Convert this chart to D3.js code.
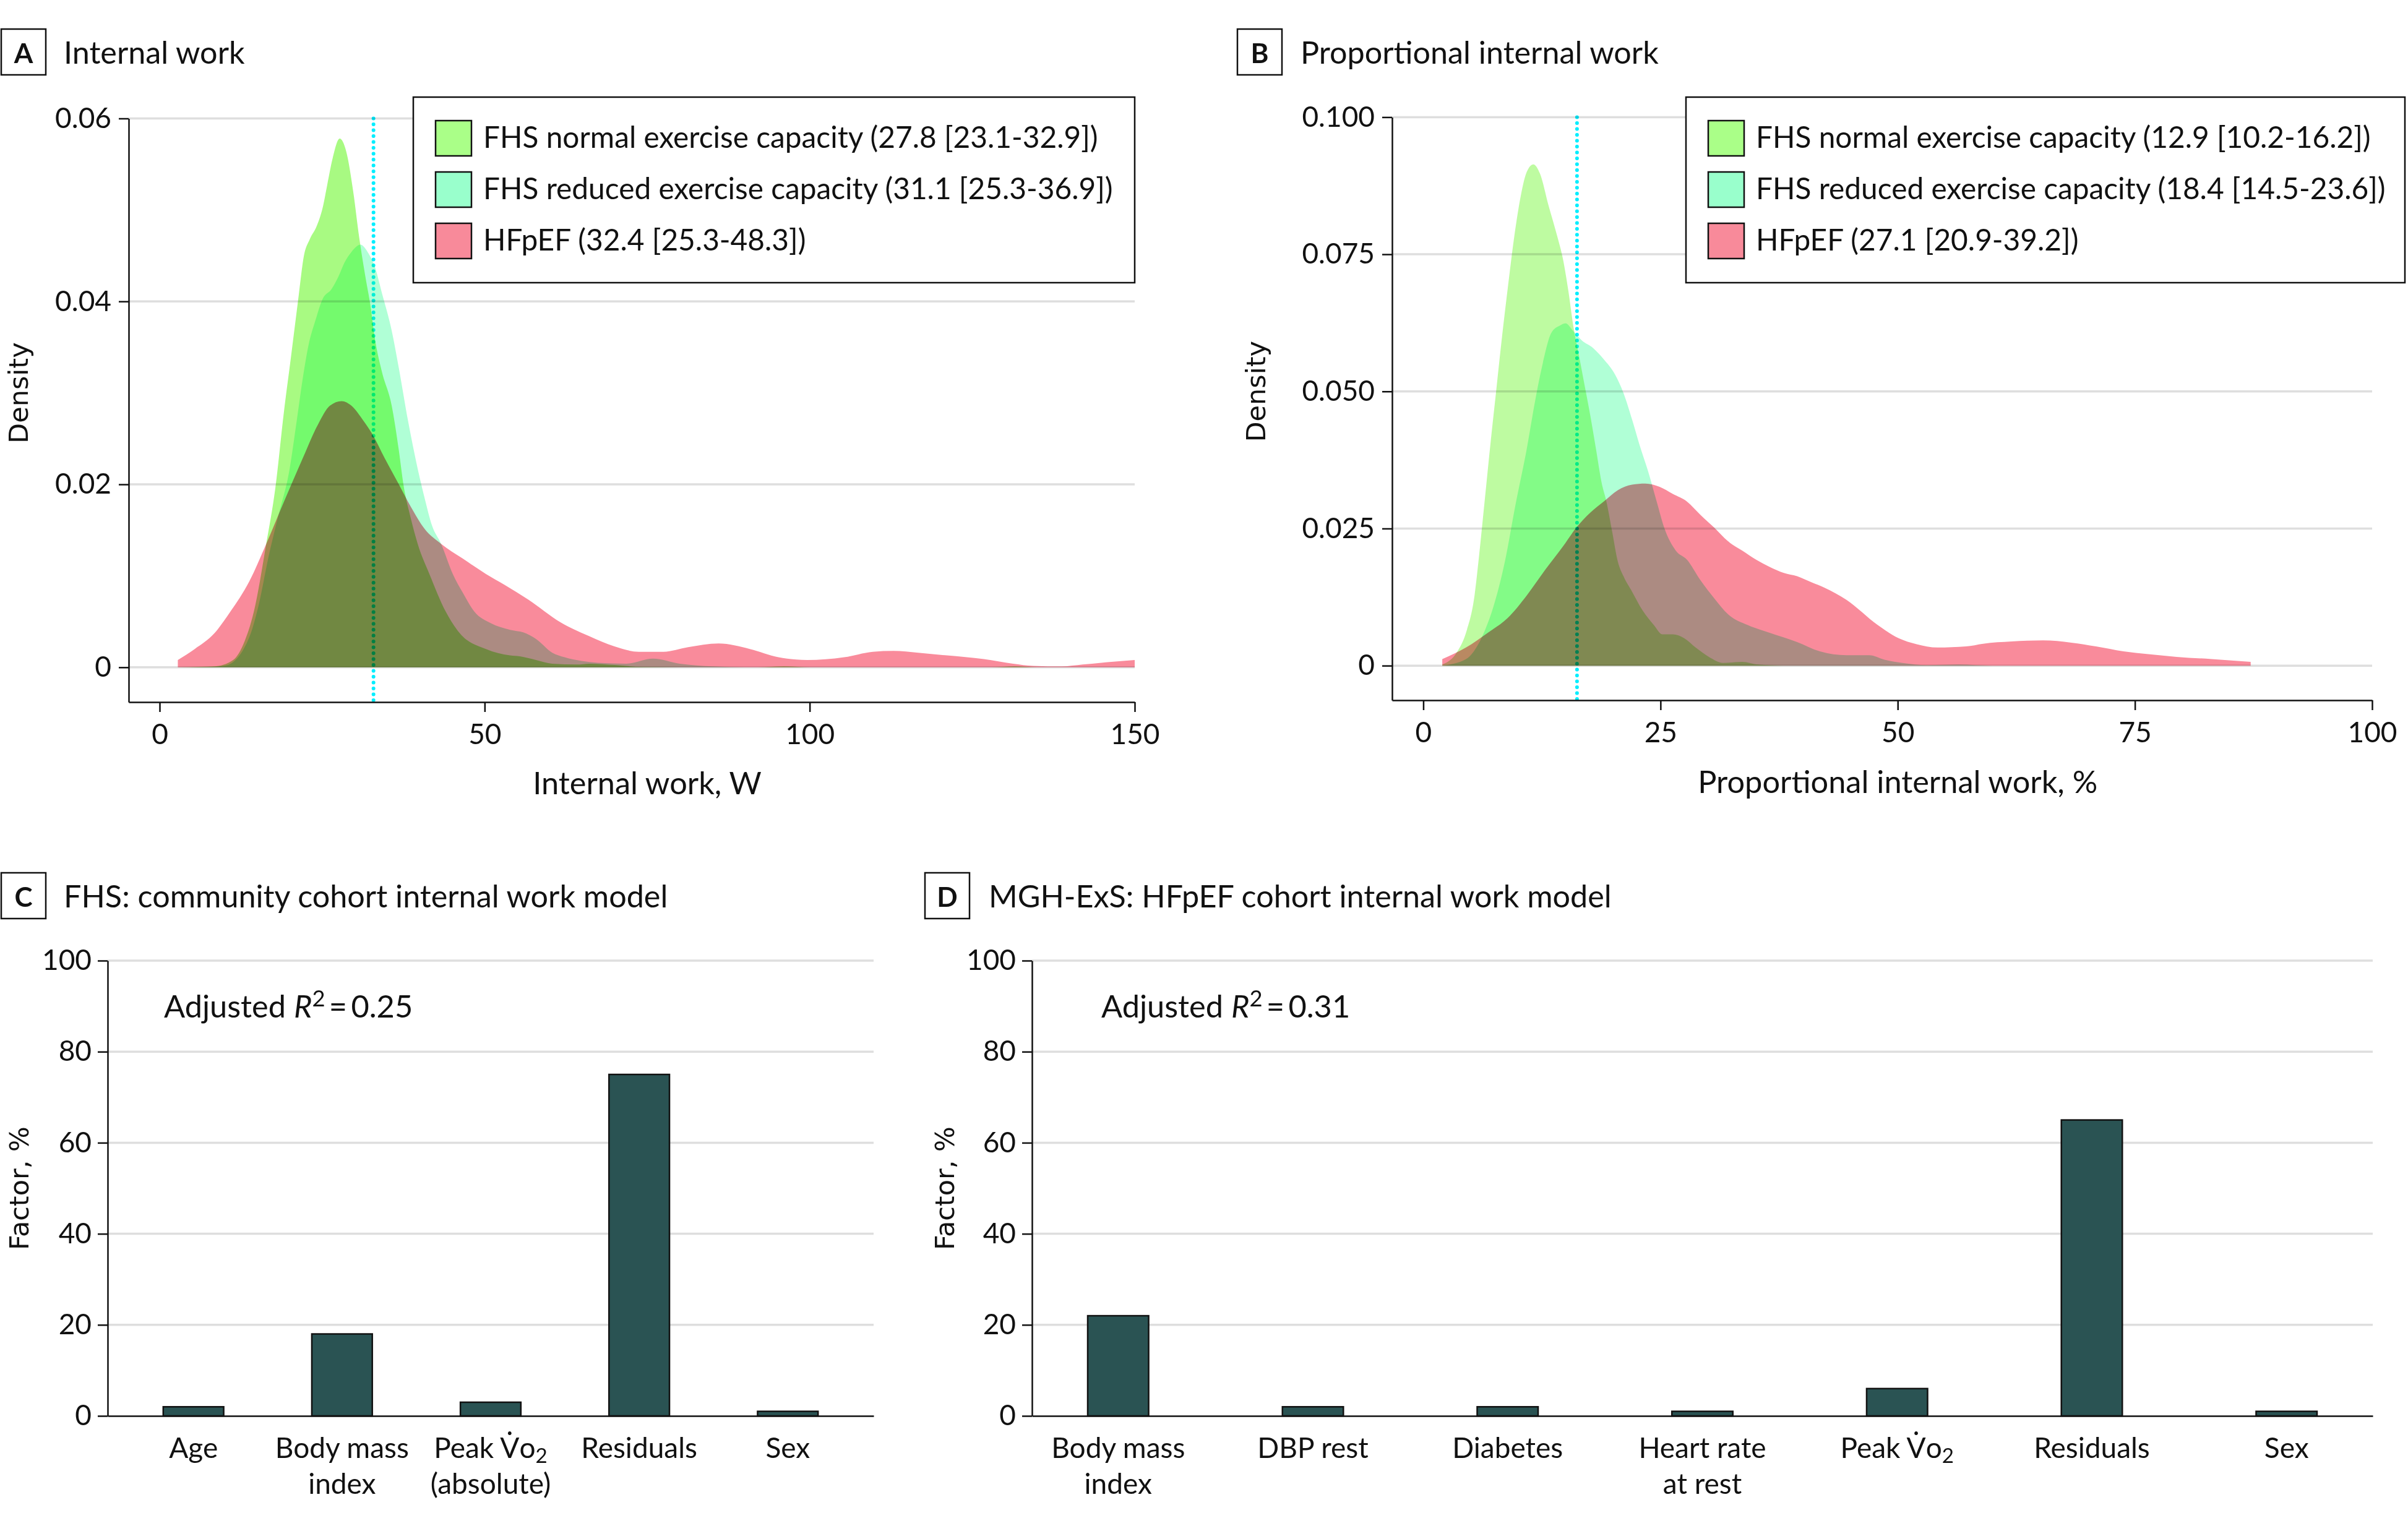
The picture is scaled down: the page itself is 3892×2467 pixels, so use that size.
<!DOCTYPE html>
<html><head><meta charset="utf-8">
<script src="https://cdn.jsdelivr.net/npm/d3@7"></script>
<style>
body{margin:0;background:#fff}
svg{display:block}
text{font-family:Lato,'Open Sans',sans-serif;fill:#111}
</style></head><body>
<svg id="c" width="3892" height="2467"></svg>
<script>
// ---------------- DATA ----------------
const seriesNames = ["FHS normal exercise capacity", "FHS reduced exercise capacity", "HFpEF"];
const legendA = ["FHS normal exercise capacity (27.8 [23.1-32.9])", "FHS reduced exercise capacity (31.1 [25.3-36.9])", "HFpEF (32.4 [25.3-48.3])"];
const legendB = ["FHS normal exercise capacity (12.9 [10.2-16.2])", "FHS reduced exercise capacity (18.4 [14.5-23.6])", "HFpEF (27.1 [20.9-39.2])"];
const refLineA = 32.9, refLineB = 16.2;

// Panel A: internal work (W) vs density
const normalA = [[2.8,0],[6,0.00005],[8.4,0.0001],[11.3,0.0008],[13.1,0.0029],[14.5,0.0061],[16.4,0.0135],[17.8,0.0196],[19.1,0.0278],[20.2,0.0339],[21.3,0.0401],[22.2,0.0450],[23.1,0.0468],[24.2,0.0483],[25.1,0.0503],[25.8,0.0528],[26.6,0.0556],[27.7,0.0578],[28.7,0.0564],[29.8,0.0519],[30.7,0.0470],[31.7,0.0425],[32.4,0.0397],[33.1,0.0360],[34.2,0.0323],[35.7,0.0286],[36.8,0.0237],[37.5,0.0200],[38.6,0.0164],[39.7,0.0135],[41.5,0.0102],[44.0,0.0061],[46.2,0.0037],[50.2,0.0020],[53.9,0.0013],[55.4,0.0012],[57.9,0.0008],[60.4,0.0004],[64.2,0.0003],[66.1,0.0004],[70,0.00025],[74.4,0.00003],[80,0],[92,0],[96,0.0001],[100,0],[128,0],[131.6,0.0001],[135,0],[150,0]];
const reducedA = [[2.8,0],[8,0.00005],[10.2,0.0002],[13.8,0.0033],[15.3,0.0070],[16.7,0.0119],[18.2,0.0164],[20.0,0.0217],[21.1,0.0270],[22.0,0.0315],[22.9,0.0352],[24.0,0.0380],[25.1,0.0403],[26.4,0.0413],[27.5,0.0427],[28.4,0.0442],[29.5,0.0454],[30.9,0.0462],[32.0,0.0454],[33.1,0.0438],[34.2,0.0409],[35.7,0.0368],[36.8,0.0327],[38.2,0.0270],[39.7,0.0217],[40.8,0.0184],[41.9,0.0155],[43.3,0.0135],[45.1,0.0102],[46.6,0.0082],[48.4,0.0061],[51.0,0.0048],[53.9,0.0041],[56.0,0.0038],[57.9,0.0031],[60.4,0.0016],[62.3,0.0011],[64.9,0.0007],[67.4,0.0005],[71.8,0.0004],[75.9,0.00095],[80.0,0.0004],[85.1,0.0001],[90,0],[150,0]];
const hfpefA = [[2.8,0.0008],[5.4,0.0020],[8.4,0.0037],[10.9,0.0061],[13.8,0.0094],[16.4,0.0135],[19.3,0.0184],[21.8,0.0225],[24.4,0.0266],[26.2,0.0286],[28.0,0.0291],[29.5,0.0286],[31.3,0.0270],[32.8,0.0254],[34.6,0.0229],[36.8,0.0200],[38.6,0.0176],[40.8,0.0151],[43.3,0.0135],[46.6,0.0119],[50.2,0.0102],[53.1,0.0090],[56.7,0.0074],[61.7,0.0049],[66.1,0.0034],[69.9,0.0023],[73.7,0.0017],[77.5,0.0017],[81.3,0.0022],[86.0,0.0026],[90.8,0.0020],[95.2,0.0011],[99.6,0.0008],[105.3,0.0011],[109.7,0.0017],[112.9,0.0018],[116.7,0.0016],[121.1,0.0013],[126.8,0.0009],[131.3,0.0004],[134.4,0.00016],[138.8,0.0001],[142.0,0.0003],[146.4,0.0006],[150,0.0008]];

// Panel B: proportional internal work (%) vs density
const normalB = [[2.0,0.0002],[3.6,0.0026],[4.5,0.0060],[5.4,0.0128],[5.9,0.0204],[6.5,0.0306],[7.1,0.0408],[7.7,0.0504],[8.3,0.0600],[8.9,0.0688],[9.6,0.0784],[10.3,0.0859],[10.9,0.0900],[11.6,0.0914],[12.3,0.0897],[13.2,0.0839],[14.1,0.0784],[14.7,0.0743],[15.3,0.0682],[15.8,0.0620],[16.4,0.0566],[17.0,0.0511],[17.6,0.0456],[18.2,0.0395],[18.8,0.0333],[19.3,0.0299],[19.9,0.0245],[20.5,0.0190],[21.1,0.0163],[22.0,0.0135],[23.1,0.0101],[24.3,0.0074],[25.2,0.0057],[26.3,0.0057],[27.5,0.0050],[28.7,0.0033],[30.1,0.0016],[31.6,0.0005],[33.6,0.0007],[35.3,0.0002],[38,0],[87,0]];
const reducedB = [[2.0,0],[4.5,0.0012],[6.2,0.0053],[7.4,0.0108],[8.6,0.0190],[9.7,0.0292],[10.9,0.0395],[11.8,0.0484],[12.6,0.0552],[13.5,0.0607],[14.4,0.0620],[15.0,0.0624],[15.8,0.0610],[16.7,0.0593],[17.9,0.0579],[19.0,0.0559],[20.2,0.0531],[21.1,0.0497],[22.0,0.0449],[22.8,0.0402],[23.7,0.0354],[24.6,0.0299],[25.4,0.0251],[26.6,0.0210],[27.8,0.0193],[29.2,0.0156],[30.7,0.0122],[32.1,0.0094],[34.2,0.0074],[36.5,0.0060],[39.4,0.0043],[41.8,0.0026],[44.6,0.0019],[47.0,0.0019],[48.6,0.0011],[50.5,0.0005],[53.1,0.0001],[56.4,0.0002],[60,0],[87,0]];
const hfpefB = [[2.0,0.0012],[4.5,0.0033],[6.8,0.0060],[8.9,0.0087],[10.9,0.0128],[12.9,0.0176],[14.7,0.0217],[16.1,0.0251],[17.6,0.0279],[19.0,0.0299],[20.5,0.0320],[22.0,0.0330],[23.4,0.0332],[24.9,0.0326],[26.3,0.0313],[27.8,0.0299],[29.2,0.0275],[30.7,0.0251],[32.1,0.0227],[33.6,0.0210],[35.1,0.0193],[36.5,0.0180],[38.0,0.0169],[39.4,0.0163],[40.9,0.0152],[42.3,0.0142],[44.6,0.0120],[47.9,0.0074],[50.1,0.0050],[52.0,0.0039],[54.2,0.0033],[57.2,0.0035],[59.0,0.0040],[62.0,0.0044],[65.3,0.0046],[68.3,0.0042],[70.9,0.0035],[73.8,0.0026],[76.4,0.0021],[79.4,0.0016],[83.1,0.0012],[87.2,0.0007]];

const xTicksA = [0, 50, 100, 150];
const yTicksA = [0, 0.02, 0.04, 0.06];
const yTickLabelsA = ["0", "0.02", "0.04", "0.06"];
const xTicksB = [0, 25, 50, 75, 100];
const yTicksB = [0, 0.025, 0.05, 0.075, 0.1];
const yTickLabelsB = ["0", "0.025", "0.050", "0.075", "0.100"];

// Panel C / D: bar charts (Factor, %)
const categoriesC = [["Age"], ["Body mass", "index"], ["Peak V\u0307o_2", "(absolute)"], ["Residuals"], ["Sex"]];
const valuesC = [2, 18, 3, 75, 1];
const categoriesD = [["Body mass", "index"], ["DBP rest"], ["Diabetes"], ["Heart rate", "at rest"], ["Peak V\u0307o_2"], ["Residuals"], ["Sex"]];
const valuesD = [22, 2, 2, 1, 6, 65, 1];
const yTicksBar = [0, 20, 40, 60, 80, 100];
const r2C = "0.25", r2D = "0.31";

// ---------------- STYLE ----------------
const colors = ["#A8FA82", "#B0FFD6", "#F98B9B"];
const swatchColors = ["#AAFF88", "#99FFCC", "#F88A9A"];
const barColor = "#2A5353";
const gridColor = "#DEDEDE";
const FS = 46;

const svg = d3.select("#c");
svg.append("rect").attr("width", 3892).attr("height", 2467).attr("fill", "#fff");

function panelLabel(x, y, letter, title, titleX) {
  svg.append("rect").attr("x", x).attr("y", y).attr("width", 72).attr("height", 74)
    .attr("fill", "#fff").attr("stroke", "#111").attr("stroke-width", 2.5);
  svg.append("text").attr("x", x + 36).attr("y", y + 55).attr("text-anchor", "middle")
    .attr("font-size", 44).attr("font-weight", 700).text(letter);
  svg.append("text").attr("x", titleX).attr("y", y + 56).attr("font-size", 50.3).text(title);
}

function rotLabel(x, y, txt) {
  svg.append("text").attr("transform", `translate(${x},${y}) rotate(-90)`)
    .attr("text-anchor", "middle").attr("font-size", 43)
    .style("font-family", "'DejaVu Sans',sans-serif").text(txt);
}

function styleAxis(g) {
  g.attr("font-family", null).attr("font-size", FS);
  g.selectAll("path.domain").attr("stroke", "#111").attr("stroke-width", 2.5);
  g.selectAll(".tick line").attr("stroke", "#111").attr("stroke-width", 2.5);
  g.selectAll(".tick text").attr("fill", "#111");
}

function densityPanel(cfg) {
  const x = d3.scaleLinear().domain(cfg.xDomain).range(cfg.xRange);
  const y = d3.scaleLinear().domain(cfg.yDomain).range(cfg.yRange);
  const gx0 = cfg.xRange[0], gx1 = cfg.xRange[1];
  // gridlines
  svg.append("g").selectAll("line").data(cfg.yTicks).join("line")
    .attr("x1", gx0).attr("x2", gx1).attr("y1", d => y(d)).attr("y2", d => y(d))
    .attr("stroke", gridColor).attr("stroke-width", 3.5);
  // areas (multiply blended)
  const area = d3.area().x(d => x(d[0])).y0(y(0)).y1(d => y(d[1])).curve(d3.curveMonotoneX);
  cfg.series.forEach((s, i) => {
    svg.append("path").datum(s).attr("d", area).attr("fill", colors[i])
      .attr("fill-opacity", cfg.opac[i]).style("mix-blend-mode", "multiply");
  });
  // reference dotted line
  svg.append("line").attr("x1", x(cfg.ref)).attr("x2", x(cfg.ref))
    .attr("y1", y(cfg.yTicks[cfg.yTicks.length - 1])).attr("y2", cfg.yRange[0])
    .attr("stroke", "#00EEFF").attr("stroke-width", 6).attr("stroke-linecap", "round")
    .attr("stroke-dasharray", "0.1 9.4").style("mix-blend-mode", "multiply");
  // axes
  const ax = svg.append("g").attr("transform", `translate(0,${cfg.yRange[0]})`)
    .call(d3.axisBottom(x).tickValues(cfg.xTicks).tickSize(16).tickSizeOuter(0).tickPadding(19));
  styleAxis(ax);
  const ay = svg.append("g").attr("transform", `translate(${gx0},0)`)
    .call(d3.axisLeft(y).tickValues(cfg.yTicks).tickFormat((d, i) => cfg.yLabels[i]).tickSize(16).tickSizeOuter(0).tickPadding(12));
  styleAxis(ay);
  // axis titles
  svg.append("text").attr("x", (x(cfg.xTicks[0]) + x(cfg.xTicks[cfg.xTicks.length - 1])) / 2).attr("y", cfg.xTitleY)
    .attr("text-anchor", "middle").attr("font-size", 50.5).text(cfg.xTitle);
  rotLabel(cfg.yTitleX, (y(0) + y(cfg.yTicks[cfg.yTicks.length - 1])) / 2, "Density");
  // legend
  const L = cfg.legend;
  svg.append("rect").attr("x", L.x).attr("y", L.y).attr("width", L.w).attr("height", L.h)
    .attr("fill", "#fff").attr("stroke", "#111").attr("stroke-width", 2.5);
  cfg.legendText.forEach((t, i) => {
    svg.append("rect").attr("x", L.x + 36).attr("y", L.y + 38 + i * 83).attr("width", 58).attr("height", 57)
      .attr("fill", swatchColors[i]).attr("stroke", "#111").attr("stroke-width", 2.5);
    svg.append("text").attr("x", L.x + 113).attr("y", L.y + 38 + i * 83 + 44).attr("font-size", 47.8).text(t);
  });
}

function addRich(sel, str) {
  const parts = str.split("_2");
  parts.forEach((p, i) => {
    if (p) sel.append("tspan").text(p);
    if (i < parts.length - 1) sel.append("tspan").attr("font-size", "0.72em").attr("dy", "0.24em").text("2");
  });
}

function barPanel(cfg) {
  const x = d3.scaleBand().domain(cfg.cats.map((c, i) => i)).range(cfg.xRange)
    .paddingInner(cfg.pi).paddingOuter(cfg.po);
  const y = d3.scaleLinear().domain([0, 100]).range(cfg.yRange);
  svg.append("g").selectAll("line").data(yTicksBar.filter(d => d > 0)).join("line")
    .attr("x1", cfg.xRange[0]).attr("x2", cfg.xRange[1]).attr("y1", d => y(d)).attr("y2", d => y(d))
    .attr("stroke", gridColor).attr("stroke-width", 3.5);
  svg.append("g").selectAll("rect").data(cfg.values).join("rect")
    .attr("x", (d, i) => x(i)).attr("width", x.bandwidth())
    .attr("y", d => y(d)).attr("height", d => y(0) - y(d))
    .attr("fill", barColor).attr("stroke", "#111").attr("stroke-width", 2.5);
  const ax = svg.append("g").attr("transform", `translate(0,${y(0)})`)
    .call(d3.axisBottom(x).tickSize(0).tickSizeOuter(0).tickFormat(""));
  styleAxis(ax);
  const ay = svg.append("g").attr("transform", `translate(${cfg.xRange[0]},0)`)
    .call(d3.axisLeft(y).tickValues(yTicksBar).tickSize(16).tickSizeOuter(0).tickPadding(10));
  styleAxis(ay);
  cfg.cats.forEach((lines, i) => {
    lines.forEach((ln, j) => {
      const t = svg.append("text").attr("x", x(i) + x.bandwidth() / 2).attr("y", y(0) + 68 + j * 58)
        .attr("text-anchor", "middle").attr("font-size", 46);
      addRich(t, ln);
    });
  });
  const r = svg.append("text").attr("x", cfg.r2x).attr("y", 1645).attr("font-size", 50.5);
  r.append("tspan").text("Adjusted ");
  r.append("tspan").attr("font-style", "italic").text("R");
  r.append("tspan").attr("font-size", "0.72em").attr("dy", "-0.5em").text("2");
  r.append("tspan").attr("dy", "0.36em").text("\u2009=\u2009" + cfg.r2);
  rotLabel(cfg.yTitleX, (y(0) + y(100)) / 2, "Factor, %");
}

// Panel A
panelLabel(2, 47, "A", "Internal work", 103);
densityPanel({
  xDomain: [-4.76, 150], xRange: [208, 1834], yDomain: [-0.0038, 0.06], yRange: [1135, 191.5],
  xTicks: xTicksA, yTicks: yTicksA, yLabels: yTickLabelsA,
  series: [normalA, reducedA, hfpefA], opac: [1, 1, 1], ref: refLineA,
  xTitle: "Internal work, W", xTitleY: 1284, yTitleX: 45,
  legend: { x: 668, y: 157, w: 1166, h: 300 }, legendText: legendA
});
// Panel B
panelLabel(2000, 47, "B", "Proportional internal work", 2102);
densityPanel({
  xDomain: [-3.29, 100], xRange: [2250, 3834], yDomain: [-0.0063, 0.1], yRange: [1132, 189.4],
  xTicks: xTicksB, yTicks: yTicksB, yLabels: yTickLabelsB,
  series: [normalB, reducedB, hfpefB], opac: [0.75, 1, 1], ref: refLineB,
  xTitle: "Proportional internal work, %", xTitleY: 1282, yTitleX: 2045,
  legend: { x: 2725, y: 157, w: 1162, h: 300 }, legendText: legendB
});
// Panel C
panelLabel(2, 1411, "C", "FHS: community cohort internal work model", 103);
barPanel({ cats: categoriesC, values: valuesC, xRange: [174, 1412], yRange: [2289, 1553],
  pi: 0.593, po: 0.374, r2: r2C, r2x: 265, yTitleX: 46 });
// Panel D
panelLabel(1495, 1411, "D", "MGH-ExS: HFpEF cohort internal work model", 1598);
barPanel({ cats: categoriesD, values: valuesD, xRange: [1668, 3835], yRange: [2289, 1553],
  pi: 0.687, po: 0.286, r2: r2D, r2x: 1780, yTitleX: 1542 });
</script>
</body></html>
